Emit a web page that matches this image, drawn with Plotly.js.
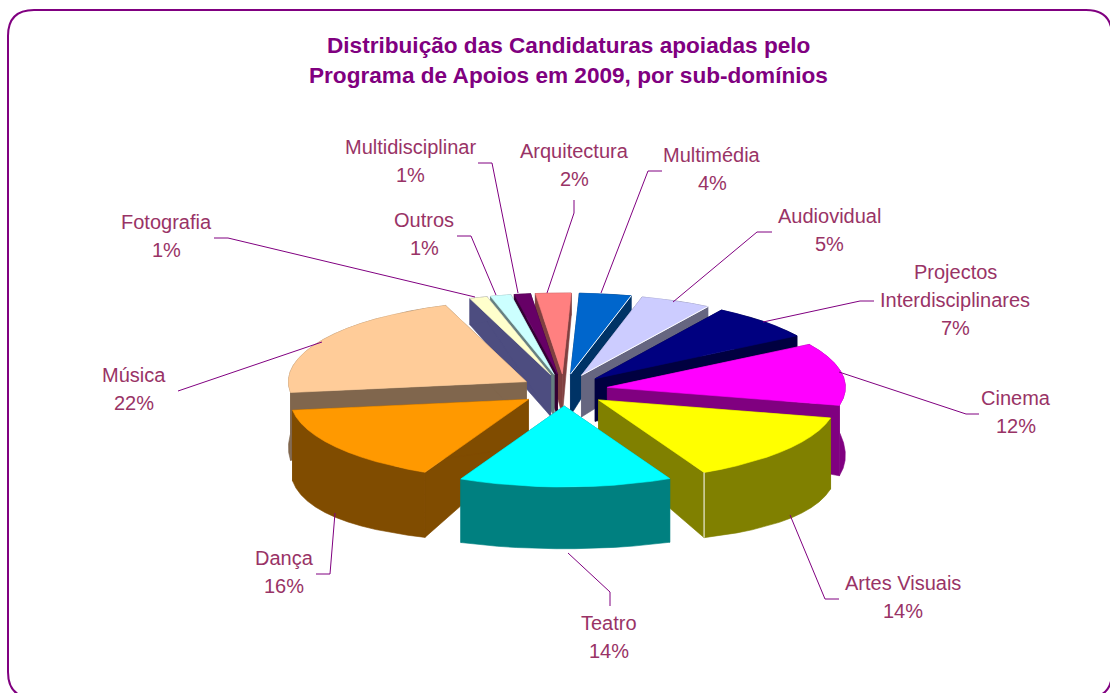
<!DOCTYPE html>
<html><head><meta charset="utf-8">
<script src="https://cdn.plot.ly/plotly-3.0.1.min.js"></script>
<style>html,body{margin:0;padding:0;background:#fff;overflow:hidden}</style>
</head><body><div id="chart" style="width:1110px;height:693px"></div>
<script>
// ---- data, clockwise from the top ----
const categories = ["Arquitectura","Multimédia","Audiovidual","Projectos<br>Interdisciplinares","Cinema","Artes Visuais","Teatro","Dança","Música","Fotografia","Outros","Multidisciplinar"];
const shares = [2.4,3.5,4.8,7.2,12.45,14.1,14.45,15.7,21.6,1.2,1.4,1.1];
const topColors = ["#FF8080","#0066CC","#CCCCFF","#000080","#FF00FF","#FFFF00","#00FFFF","#FF9900","#FFCC99","#FFFFCC","#CCFFFF","#660066"];
const wallColors = ["#804040","#003366","#666680","#000040","#800080","#808000","#008080","#804C00","#80664D","#4D4D80","#668080","#330033"];
const titleLines = ["Distribuição das Candidaturas apoiadas pelo","Programa de Apoios em 2009, por sub-domínios"];

// ---- label placement (centre of the first text line, px) ----
const labelAnchors = [[574,151],[712,155],[829,216],[955,272],[1016,398],[903,583],[609,623],[284,558],[134,375],[166,222],[424,220],[410,147]];
const leaders = [
 [[574,200],[574,213],[547,293]],[[662,171],[648,171],[601,293]],[[772,232],[757,232],[673,302]],
 [[874,301],[860,301],[763,322]],[[979,414],[966,414],[839,372]],[[839,599],[825,599],[790,515]],
 [[610,606],[610,592],[568,553]],[[316,574],[330,574],[335,513]],[[178,391],[322,342]],
 [[214,238],[228,238],[475,297]],[[457,236],[471,236],[496,295]],[[478,163],[492,163],[518,293]]];

// ---- projection of the tilted, exploded pie ----
const CX=564, CY=390, A=238, B=81, EX=44, EY=16, START=-6.5;
const rad=d=>d*Math.PI/180;
const total=shares.reduce((s,v)=>s+v,0);
function depth(x,y){const nx=(x-CX)/A, ny=(y-CY)/B; return 45+(ny>0?14:19)*ny+17*nx*nx;}
const down=p=>[p[0],p[1]+depth(p[0],p[1])];
const traces=[];
function poly(pts,color,name){
  traces.push({type:'scatter',mode:'lines',x:pts.map(p=>p[0]),y:pts.map(p=>p[1]),fill:'toself',fillcolor:color,
    line:{color:color,width:0.6},hoverinfo:'text',text:name,showlegend:false});
}
function edge(a,b){
  traces.push({type:'scatter',mode:'lines',x:[a[0],b[0]],y:[a[1],b[1]],line:{color:'#FFFFFF',width:1},hoverinfo:'skip',showlegend:false});
}
let acc=START; const slices=shares.map((v,i)=>{const s=acc,e=acc+v/total*360;acc=e;return {i,s,e,m:(s+e)/2};});
slices.slice().sort((a,b)=>(-Math.cos(rad(a.m)))-(-Math.cos(rad(b.m)))).forEach(sl=>{
  const dirx=Math.sin(rad(sl.m)), diry=-Math.cos(rad(sl.m));
  const ap=[CX+EX*dirx, CY+EY*diry];
  const arc=[]; const n=Math.max(3,Math.ceil((sl.e-sl.s)/5));
  for(let k=0;k<=n;k++){const t=rad(sl.s+(sl.e-sl.s)*k/n); arc.push([ap[0]+A*Math.sin(t),ap[1]-B*Math.cos(t)]);}
  const nm=categories[sl.i].replace('<br>',' ')+' '+Math.round(shares[sl.i])+'%';
  const first=arc[0], last=arc[arc.length-1];
  poly([ap,first,down(first),down(ap),ap],wallColors[sl.i],nm);
  poly([ap,last,down(last),down(ap),ap],wallColors[sl.i],nm);
  poly(arc.concat(arc.map(down).reverse()).concat([arc[0]]),wallColors[sl.i],nm);
  poly([ap].concat(arc).concat([ap]),topColors[sl.i],nm);
  if(sl.i===1||sl.i===2) edge(ap,last);
  if(sl.i===5) edge(last,down(last));
});

// ---- text ----
const ink="#993366", font="'Liberation Sans',Arial,sans-serif";
const annotations=[];
function txt(x,y,t,size,color){annotations.push({xref:'x',yref:'y',x:x,y:y,text:t,showarrow:false,xanchor:'center',yanchor:'middle',
  font:{family:font,size:size,color:color}});}
titleLines.forEach((t,i)=>txt(568.5,45+i*30,'<b>'+t+'</b>',22.6,'#800080'));
categories.forEach((c,i)=>{
  const lines=c.split('<br>').concat([Math.round(shares[i])+'%']);
  lines.forEach((t,k)=>txt(labelAnchors[i][0],labelAnchors[i][1]+k*28,t,20,ink));
});
const path=l=>l.map((p,i)=>(i?'L':'M')+p[0]+','+p[1]).join(' ');
const shapes=leaders.map(l=>({type:'path',xref:'x',yref:'y',path:path(l),line:{color:'#800080',width:1}}));
shapes.push({type:'path',xref:'x',yref:'y',line:{color:'#800080',width:2},
  path:'M8,36 Q8,10 34,10 L1086,10 Q1112,10 1112,36 L1112,672 Q1112,698 1086,698 L34,698 Q8,698 8,672 Z'});

Plotly.newPlot('chart',traces,{
  width:1110,height:693,margin:{l:0,r:0,t:0,b:0},paper_bgcolor:'#fff',plot_bgcolor:'#fff',showlegend:false,
  xaxis:{range:[0,1110],visible:false,fixedrange:true},
  yaxis:{range:[693,0],visible:false,fixedrange:true},
  annotations,shapes
},{displayModeBar:false,staticPlot:false});
</script></body></html>
